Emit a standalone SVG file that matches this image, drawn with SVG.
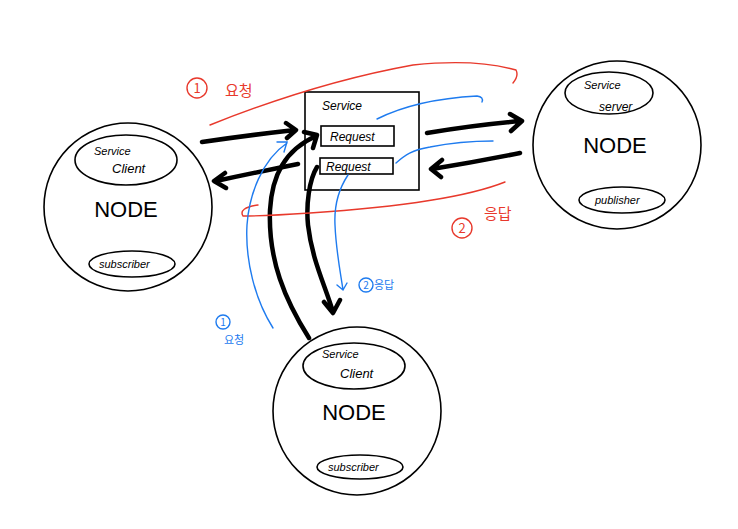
<svg xmlns="http://www.w3.org/2000/svg" width="738" height="529" viewBox="0 0 738 529">
<defs>
<style>
.node{fill:none;stroke:#000;stroke-width:1.6}
.inner{fill:none;stroke:#000;stroke-width:1.6}
.hand{font-family:"Liberation Sans","Noto Sans CJK KR",sans-serif;fill:#000;font-style:italic}
.big{font-family:"Liberation Sans",sans-serif;font-size:22px;fill:#000;text-anchor:middle;font-weight:300}
.blk{fill:none;stroke:#000;stroke-width:4.5;stroke-linecap:round;stroke-linejoin:round}
.red{fill:none;stroke:#e8392c;stroke-width:1.4;stroke-linecap:round}
.blue{fill:none;stroke:#1e7bef;stroke-width:1.4;stroke-linecap:round}
.rt{font-family:"Noto Sans CJK KR",sans-serif;fill:#e8392c}
.bt{font-family:"Noto Sans CJK KR",sans-serif;fill:#1e7bef}
</style>
</defs>
<rect width="738" height="529" fill="#fff"/>

<g id="node-left">
<circle class="node" cx="128" cy="207" r="84"/>
<ellipse class="inner" cx="126" cy="160" rx="51" ry="25"/>
<text class="hand" x="94" y="155" font-size="11">Service</text>
<text class="hand" x="112" y="173" font-size="13">Client</text>
<text class="big" x="126" y="217">NODE</text>
<ellipse class="inner" cx="132" cy="264" rx="43" ry="13"/>
<text class="hand" x="99" y="268" font-size="11">subscriber</text>
</g>

<g id="node-right">
<circle class="node" cx="617" cy="145" r="84"/>
<ellipse class="inner" cx="609" cy="93" rx="44" ry="21"/>
<text class="hand" x="584" y="89" font-size="11">Service</text>
<text class="hand" x="599" y="111" font-size="12">server</text>
<text class="big" x="615" y="153">NODE</text>
<ellipse class="inner" cx="622" cy="200" rx="43" ry="13"/>
<text class="hand" x="595" y="204" font-size="11">publisher</text>
</g>

<g id="node-bottom">
<circle class="node" cx="357" cy="411" r="84"/>
<ellipse class="inner" cx="354" cy="366" rx="51" ry="23"/>
<text class="hand" x="322" y="358" font-size="11">Service</text>
<text class="hand" x="340" y="378" font-size="13">Client</text>
<text class="big" x="354" y="420">NODE</text>
<ellipse class="inner" cx="360" cy="467" rx="43" ry="12"/>
<text class="hand" x="328" y="471" font-size="11">subscriber</text>
</g>

<g id="service">
<rect x="305" y="92" width="114" height="98" fill="none" stroke="#000" stroke-width="1.6"/>
<text class="hand" x="322" y="110" font-size="12">Service</text>
<rect x="321" y="126" width="73" height="20" fill="none" stroke="#000" stroke-width="1.6"/>
<text class="hand" x="330" y="141" font-size="12">Request</text>
<rect x="320" y="158" width="73" height="16" fill="none" stroke="#000" stroke-width="1.6"/>
<text class="hand" x="326" y="171" font-size="12">Request</text>
</g>

<g id="connectors">
<!-- black arrows -->
<path class="blk" d="M202 142 Q250 135 295 130 M286 123 L296 130 L287 138"/>
<path class="blk" d="M298 164 Q258 172 216 181 M225 173 L214 181 L226 188"/>
<path class="blk" d="M427 133 Q475 125 521 121 M510 114 L522 121 L511 131"/>
<path class="blk" d="M520 153 Q475 162 432 169 M442 160 L431 169 L441 177"/>
<path class="blk" d="M309 338 C285 300 268 260 270 210 C272 175 285 150 316 136 M304 132 L317 135 L313 148"/>
<path class="blk" d="M317 167 C309 180 306 205 308 225 C312 260 325 285 333 312 M324 302 L333 313 L340 300"/>
<!-- red -->
<path class="red" d="M210 125 C260 105 330 80 413 65 C460 60 495 64 516 70 Q519 76 513 83"/>
<path class="red" d="M505 182 C470 196 400 207 310 213 C280 215 255 216 243 216 Q238 208 258 205"/>
<!-- blue -->
<path class="blue" d="M377 119 C405 105 440 98 477 96 Q484 97 482 102"/>
<path class="blue" d="M396 163 C405 155 412 150 430 147 C450 143 475 141 493 141"/>
<path class="blue" d="M273 328 C255 300 245 260 247 225 C249 195 262 160 287 143 M277 142 L287 142 L284 152"/>
<path class="blue" d="M348 175 C338 190 334 205 335 225 C336 250 340 270 343 290 M337 285 L343 290 L347 283"/>
</g>

<g id="labels">
<circle cx="197" cy="88" r="10" fill="none" stroke="#e8392c" stroke-width="1.4"/>
<text class="rt" x="197" y="93" font-size="13" text-anchor="middle">1</text>
<text class="rt" x="225" y="96" font-size="15">요청</text>
<circle cx="462" cy="228" r="10" fill="none" stroke="#e8392c" stroke-width="1.4"/>
<text class="rt" x="462" y="233" font-size="13" text-anchor="middle">2</text>
<text class="rt" x="484" y="219" font-size="15">응답</text>
<circle cx="223" cy="322" r="7" fill="none" stroke="#1e7bef" stroke-width="1.4"/>
<text class="bt" x="223" y="326" font-size="10" text-anchor="middle">1</text>
<text class="bt" x="224" y="344" font-size="11">요청</text>
<circle cx="366" cy="285" r="7" fill="none" stroke="#1e7bef" stroke-width="1.4"/>
<text class="bt" x="366" y="289" font-size="10" text-anchor="middle">2</text>
<text class="bt" x="374" y="289" font-size="11">응답</text>
</g>
</svg>
